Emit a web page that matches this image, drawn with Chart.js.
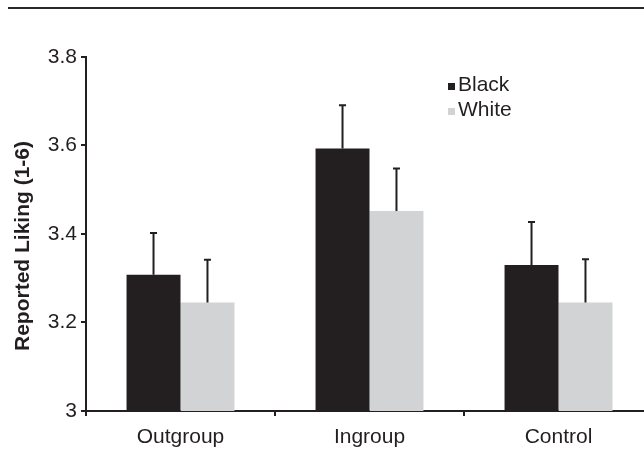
<!DOCTYPE html>
<html>
<head>
<meta charset="utf-8">
<script src="https://cdn.jsdelivr.net/npm/chart.js@4/dist/chart.umd.min.js"></script>
<style>
  html, body { margin: 0; padding: 0; background: #fff; overflow: hidden; }
  #wrap { position: relative; width: 644px; height: 465px; overflow: hidden; }
  #rule { position: absolute; left: 8px; right: 0; top: 7px; height: 0; border-top: 2px solid #2b2829; }
  canvas { position: absolute; left: 0; top: 0; }
</style>
</head>
<body>
<div id="wrap">
  <div id="rule"></div>
  <canvas id="c" width="660" height="465"></canvas>
</div>
<script>
// Mean reported liking by condition and target race, with standard errors
const conditions = ['Outgroup', 'Ingroup', 'Control'];
const blackMeans = [3.308, 3.593, 3.330];
const whiteMeans = [3.245, 3.452, 3.245];
const blackErrors = [0.094, 0.098, 0.097];
const whiteErrors = [0.097, 0.096, 0.098];
const yTicks = [3, 3.2, 3.4, 3.6, 3.8];
const yTitle = 'Reported Liking (1-6)';

const INK = '#231f20';
const GREY = '#d1d3d4';
const FONT = "'Liberation Sans', Arial, Helvetica, sans-serif";

// Upward-only error bars with a short cap
const errorBars = {
  id: 'errorBars',
  afterDatasetsDraw(chart) {
    const ctx = chart.ctx;
    const y = chart.scales.y;
    ctx.save();
    ctx.strokeStyle = INK;
    ctx.lineWidth = 2;
    chart.data.datasets.forEach((ds, i) => {
      const meta = chart.getDatasetMeta(i);
      meta.data.forEach((bar, j) => {
        const top = y.getPixelForValue(ds.data[j] + ds.errors[j]);
        ctx.beginPath();
        ctx.moveTo(bar.x, bar.y);
        ctx.lineTo(bar.x, top);
        ctx.moveTo(bar.x - 3.5, top);
        ctx.lineTo(bar.x + 3.5, top);
        ctx.stroke();
      });
    });
    ctx.restore();
  }
};

// Square-marker legend inside the plot and the rotated y-axis title
const annotations = {
  id: 'annotations',
  afterDraw(chart) {
    const ctx = chart.ctx;
    ctx.save();
    ctx.font = '21px ' + FONT;
    ctx.textBaseline = 'alphabetic';
    chart.data.datasets.forEach((ds, i) => {
      const base = 91 + i * 25;
      ctx.fillStyle = ds.backgroundColor;
      ctx.fillRect(448, base - 8, 7, 7);
      ctx.fillStyle = INK;
      ctx.fillText(ds.label, 458, base);
    });
    ctx.translate(23, 246);
    ctx.rotate(-Math.PI / 2);
    ctx.font = 'bold 21px ' + FONT;
    ctx.textAlign = 'center';
    ctx.textBaseline = 'middle';
    ctx.fillStyle = INK;
    ctx.fillText(yTitle, 0, 0);
    ctx.restore();
  }
};

new Chart(document.getElementById('c'), {
  type: 'bar',
  data: {
    labels: conditions,
    datasets: [
      { label: 'Black', data: blackMeans, errors: blackErrors, backgroundColor: INK, borderWidth: 0 },
      { label: 'White', data: whiteMeans, errors: whiteErrors, backgroundColor: GREY, borderWidth: 0 }
    ]
  },
  options: {
    responsive: false,
    animation: false,
    devicePixelRatio: 1,
    categoryPercentage: 0.571,
    barPercentage: 1.0,
    layout: { padding: { top: 57, right: 7, left: 0, bottom: 0 } },
    plugins: {
      legend: { display: false },
      tooltip: { enabled: false }
    },
    scales: {
      x: {
        offset: true,
        grid: { display: true, drawOnChartArea: false, offset: true, tickLength: 5, color: INK, lineWidth: 2 },
        border: { display: true, color: INK, width: 2 },
        ticks: { color: INK, font: { family: FONT, size: 21 }, padding: 9, maxRotation: 0 },
        afterFit(scale) { scale.height = 465 - 411; }
      },
      y: {
        min: 3,
        max: 3.8,
        afterBuildTicks(scale) { scale.ticks = yTicks.map(v => ({ value: v })); },
        grid: { display: true, drawOnChartArea: false, tickLength: 5, color: INK, lineWidth: 2 },
        border: { display: true, color: INK, width: 2 },
        ticks: {
          color: INK,
          font: { family: FONT, size: 21 },
          padding: 4,
          callback: v => String(+Number(v).toFixed(1))
        },
        afterFit(scale) { scale.width = 86; }
      }
    }
  },
  plugins: [errorBars, annotations]
});
</script>
</body>
</html>
